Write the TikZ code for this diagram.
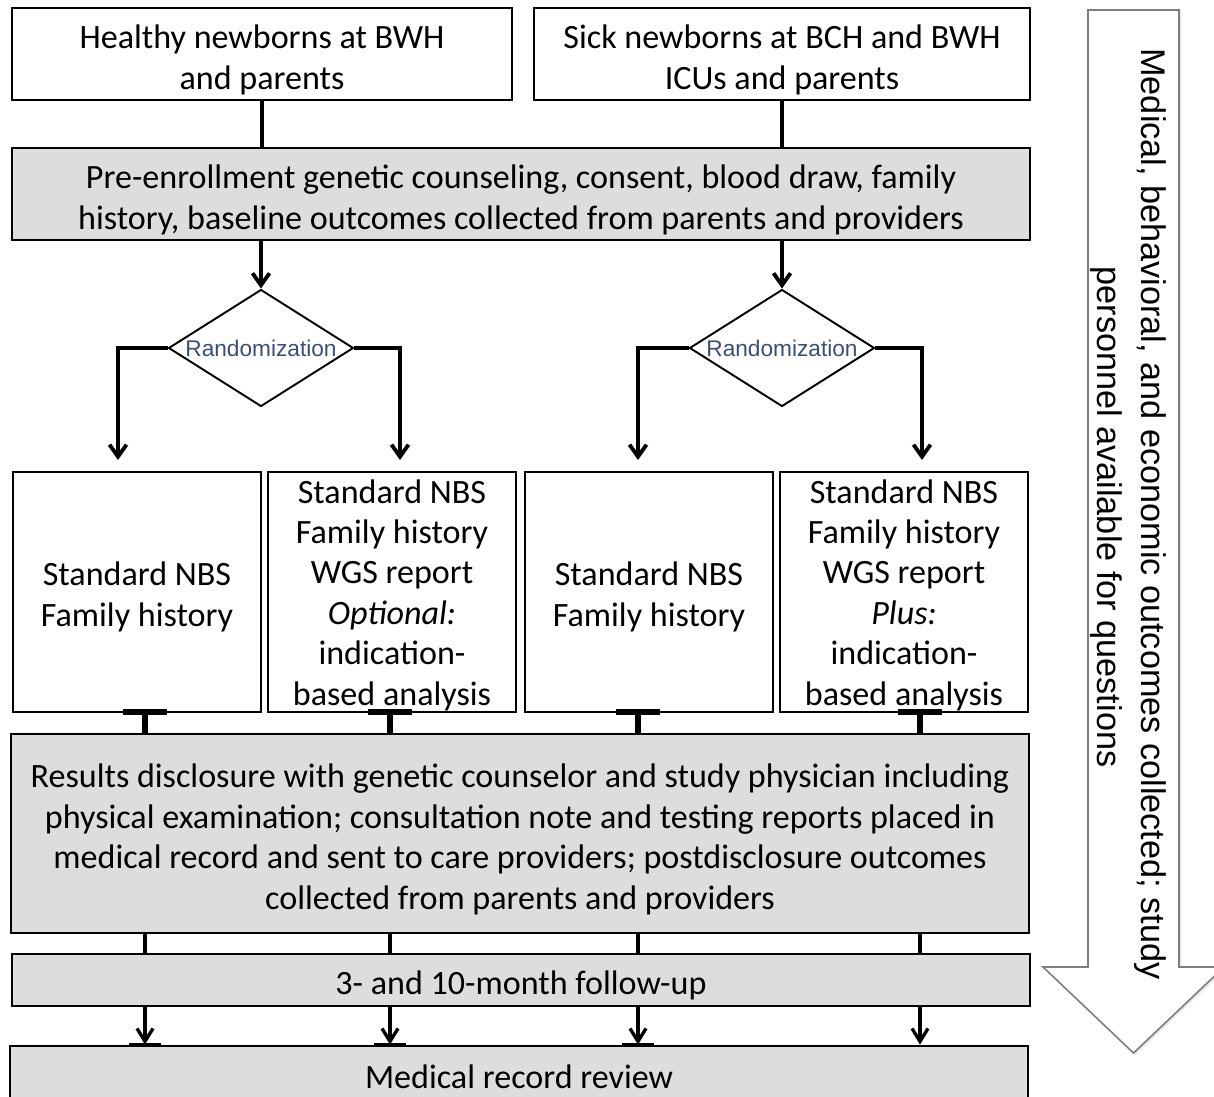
\documentclass[tikz,border=0pt]{standalone}
\usepackage{fontspec}
\setmainfont{Carlito}
\newfontfamily\arialfont{Liberation Sans}
\usetikzlibrary{shapes.geometric,arrows.meta,calc}
\definecolor{boxgray}{RGB}{221,221,221}
\definecolor{randblue}{RGB}{58,78,120}
\definecolor{arrowedge}{RGB}{125,125,125}

\begin{document}
\begin{tikzpicture}[x=0.02cm,y=-0.02cm,
  box/.style={draw=black, line width=1.6pt, fill=white, inner sep=0pt},
  graybox/.style={box, fill=boxgray},
  sz/.style 2 args={minimum width=#1*0.02cm, minimum height=#2*0.02cm},
  boxtext/.style={align=center, inner sep=0pt, yshift=-0.12cm,
    font=\fontsize{19.4}{23}\selectfont},
  decide/.style={diamond, draw=black, line width=1.1pt, fill=white,
    aspect=1.6, minimum width=3.7cm, minimum height=2.34cm, inner sep=0pt,
    font=\arialfont\fontsize{12.9}{14}\selectfont, text=randblue},
  link/.style={line width=2.2pt},
  arr/.style={link, -{Straight Barb[length=2.4mm,width=3.4mm]}},
  thinarr/.style={line width=1.9pt, -{Straight Barb[length=2.6mm,width=3.2mm]}},
  stem/.style={line width=3pt},
  tbar/.style={line width=3.6pt},
  sidetext/.style={rotate=-90, anchor=base,
    font=\arialfont\fontsize{19.5}{25}\selectfont}
]
\useasboundingbox (0,0) rectangle (1214,1096);
\clip (0,0) rectangle (1214,1096);

% side arrow: outcomes collected throughout the study
\fill[gray!18] (1090,12) -- (1181,12) -- (1181,969) -- (1226,969)
  -- (1135.5,1055) -- (1045,969) -- (1090,969) -- cycle;
\draw[arrowedge, line width=0.9pt, fill=white, line join=miter]
  (1088,10) -- (1179,10) -- (1179,967) -- (1224,967)
  -- (1133.5,1053) -- (1043,967) -- (1088,967) -- cycle;
\node[sidetext] (note1) at (1141,514)
  {Medical, behavioral, and economic outcomes collected; study};
\node[sidetext] (note2) at (1097,517)
  {personnel available for questions};

% enrollment
\node[box, sz={500}{92},
  label={[boxtext]center:{Healthy newborns at BWH\\and parents}}]
  (healthy) at (262,54) {};
\node[box, sz={496}{92},
  label={[boxtext]center:{Sick newborns at BCH and BWH\\ICUs and parents}}]
  (sick) at (782,54) {};
\node[graybox, sz={1018}{92},
  label={[boxtext]center:{Pre-enrollment genetic counseling, consent, blood draw, family\\
   history, baseline outcomes collected from parents and providers}}]
  (pre) at (521,194) {};

% randomization
\node[decide] (rand1) at (261,348) {Randomization};
\node[decide] (rand2) at (782,348) {Randomization};

% study arms
\node[box, sz={248}{240},
  label={[boxtext, yshift=0.02cm]center:{Standard NBS\\Family history}}]
  (std1) at (137,592) {};
\node[box, sz={248}{240},
  label={[boxtext, yshift=0.06cm]center:{Standard NBS\\Family history\\WGS report\\\textit{Optional:}\\indication-\\based analysis}}]
  (wgs1) at (392,592) {};
\node[box, sz={248}{240},
  label={[boxtext, yshift=0.02cm]center:{Standard NBS\\Family history}}]
  (std2) at (649,592) {};
\node[box, sz={248}{240},
  label={[boxtext, yshift=0.06cm]center:{Standard NBS\\Family history\\WGS report\\\textit{Plus:}\\indication-\\based analysis}}]
  (wgs2) at (904,592) {};

% disclosure and follow-up
\node[graybox, sz={1018}{199},
  label={[boxtext]center:{Results disclosure with genetic counselor and study physician including\\
   physical examination; consultation note and testing reports placed in\\
   medical record and sent to care providers; postdisclosure outcomes\\
   collected from parents and providers}}]
  (results) at (520,833.5) {};
\node[graybox, sz={1018}{52},
  label={[boxtext, yshift=0.02cm]center:{3- and 10-month follow-up}}]
  (follow) at (521,980) {};
\node[graybox, sz={1018}{64},
  label={[boxtext, yshift=0.14cm]center:{Medical record review}}]
  (review) at (519,1078) {};

% connectors: enrollment to counseling
\draw[link] (healthy.south) -- (healthy.south |- pre.north);
\draw[link] (sick.south) -- (sick.south |- pre.north);
\draw[arr] (pre.south -| rand1.north) -- (rand1.north);
\draw[arr] (pre.south -| rand2.north) -- (rand2.north);

% randomization branches
\coordinate (a1) at (118,460);
\coordinate (a2) at (400,460);
\coordinate (a3) at (638,460);
\coordinate (a4) at (922,460);
\draw[arr] (rand1.west) -| (a1);
\draw[arr] (rand1.east) -| (a2);
\draw[arr] (rand2.west) -| (a3);
\draw[arr] (rand2.east) -| (a4);

% arms into disclosure
\coordinate (t1) at (145,712);
\coordinate (t2) at (390,712);
\coordinate (t3) at (638,712);
\coordinate (t4) at (920,712);
\foreach \t in {t1,t2,t3,t4}{
  \draw[stem] (\t) -- (\t |- results.north);
  \draw[tbar] ($(\t)+(-22,0)$) -- ($(\t)+(22,0)$);
  \draw[link] (results.south -| \t) -- (follow.north -| \t);
  \draw[thinarr] (follow.south -| \t) -- (review.north -| \t);
}
\foreach \t in {t1,t2,t3}{
  \draw[line width=1.6pt] ($(review.north -| \t)+(-16,0)$) -- ($(review.north -| \t)+(16,0)$);
}
\end{tikzpicture}
\end{document}
